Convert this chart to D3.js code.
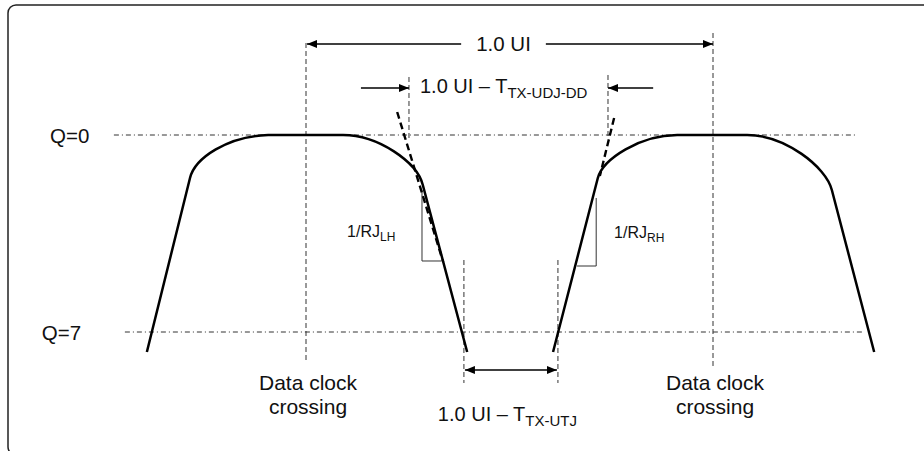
<!DOCTYPE html>
<html>
<head>
<meta charset="utf-8">
<script src="https://cdn.jsdelivr.net/npm/d3@7"></script>
<style>
  html, body { margin: 0; padding: 0; background: #fff; }
  svg { display: block; }
  text { font-family: "Liberation Sans", Arial, sans-serif; fill: #111; }
</style>
</head>
<body>
<svg id="chart" width="924" height="451"></svg>
<script>
// ---- Data (UI along x, Q level along y) ----
const qLevels = [0, 7];
const qLabels = ["Q=0", "Q=7"];
const qLabelStart = [-0.629, -0.649];
const qLineStart = [-0.472, -0.445];
const qLineEnd = [1.349, 1.373];

// pulse outlines: [M, L, C(c1,c2,end), L(flat), C(c1,c2,end), L]
const leftPulse = [[-0.391, 7.711], [-0.285, 1.528], [-0.273, 0.817], [-0.192, 0.036], [-0.093, 0],
                   [0.091, 0], [0.177, 0], [0.273, 0.959], [0.287, 1.777], [0.396, 7.711]];
const rightPulse = [[0.607, 7.711], [0.717, 1.528], [0.730, 0.853], [0.821, 0], [0.912, 0],
                    [1.084, 0], [1.177, 0], [1.278, 1.137], [1.292, 1.954], [1.396, 7.711]];

// extrapolated (dashed) edges
const tangents = [[[0.224, -0.817], [0.337, 4.513]], [[0.757, -0.604], [0.722, 1.457]]];
// slope triangles
const slopeTriangles = [[[0.285, 1.954], [0.285, 4.477], [0.332, 4.477]],
                        [[0.666, 4.655], [0.713, 4.655], [0.713, 2.239]]];
// vertical dashed markers: [u, qTop, qBottom]
const clockCrossings = [[0, -3.269, 8.066], [1, -3.624, 8.208]];
const udjMarkers = [[0.253, -2.061, 0.178], [0.742, -2.132, 0.071]];
const utjMarkers = [[0.388, 4.442, 8.812], [0.619, 4.442, 8.812]];

// arrows
const uiArrow = { from: 0, to: 1, q: -3.234, label: "1.0 UI" };
const udjArrows = [[0.135, 0.253, -1.670], [0.853, 0.742, -1.670]];
const utjArrow = [0.388, 0.619, 8.350];

// annotations: [main, subscript, u, q, anchor, size]
const annotations = [
  ["1.0 UI \u2013 T", "TX-UDJ-DD", 0.280, -1.492, "start", 20],
  ["1/RJ", "LH", 0.101, 3.624, "start", 16],
  ["1/RJ", "RH", 0.757, 3.660, "start", 16],
  ["1.0 UI \u2013 T", "TX-UTJ", 0.324, 10.163, "start", 20]
];
const clockLabels = [["Data clock", "crossing"], ["Data clock", "crossing"]];
const clockLabelQ = [9.061, 9.914];

// ---- Scales ----
const x = d3.scaleLinear().domain([0, 1]).range([306, 713]);
const y = d3.scaleLinear().domain([0, 7]).range([135, 332]);

const svg = d3.select("#chart");

// frame
svg.append("rect").attr("x", 8).attr("y", 5).attr("width", 940).attr("height", 450)
  .attr("rx", 8).attr("fill", "none").attr("stroke", "#222").attr("stroke-width", 1.5);

// markers
const defs = svg.append("defs");
defs.append("marker").attr("id", "ah").attr("viewBox", "0 0 10 8")
  .attr("refX", 10).attr("refY", 4).attr("markerWidth", 10).attr("markerHeight", 8)
  .attr("markerUnits", "userSpaceOnUse").attr("orient", "auto-start-reverse")
  .append("path").attr("d", "M0,0 L10,4 L0,8 Z").attr("fill", "#000");

// Q level lines
qLevels.forEach((q, i) => {
  svg.append("line").attr("x1", x(qLineStart[i])).attr("x2", x(qLineEnd[i]))
    .attr("y1", y(q)).attr("y2", y(q))
    .attr("stroke", "#333").attr("stroke-width", 1).attr("stroke-dasharray", "5,3,1,3");
  svg.append("text").attr("x", x(qLabelStart[i])).attr("y", y(q))
    .attr("dominant-baseline", "central").attr("font-size", 20.5).text(qLabels[i]);
});

// vertical dashed markers
[...clockCrossings, ...udjMarkers, ...utjMarkers].forEach(d => {
  svg.append("line").attr("x1", x(d[0])).attr("x2", x(d[0]))
    .attr("y1", y(d[1])).attr("y2", y(d[2]))
    .attr("stroke", "#333").attr("stroke-width", 1).attr("stroke-dasharray", "5,3");
});

// slope triangles
const line = d3.line().x(d => x(d[0])).y(d => y(d[1]));
slopeTriangles.forEach(t => {
  svg.append("path").attr("d", line(t)).attr("fill", "none")
    .attr("stroke", "#333").attr("stroke-width", 1);
});

// pulses
function pulsePath(p) {
  const P = p.map(d => [x(d[0]), y(d[1])]);
  const path = d3.path();
  path.moveTo(...P[0]);
  path.lineTo(...P[1]);
  path.bezierCurveTo(...P[2], ...P[3], ...P[4]);
  path.lineTo(...P[5]);
  path.bezierCurveTo(...P[6], ...P[7], ...P[8]);
  path.lineTo(...P[9]);
  return path.toString();
}
[leftPulse, rightPulse].forEach(p => {
  svg.append("path").attr("d", pulsePath(p)).attr("fill", "none")
    .attr("stroke", "#000").attr("stroke-width", 2.5).attr("stroke-linejoin", "round");
});

// tangent dashed edges
tangents.forEach(t => {
  svg.append("path").attr("d", line(t)).attr("fill", "none")
    .attr("stroke", "#000").attr("stroke-width", 2.4).attr("stroke-dasharray", "7,4");
});

// 1.0 UI arrow with label gap
const uiText = svg.append("text").attr("x", (x(uiArrow.from) + x(uiArrow.to)) / 2 - 6)
  .attr("y", y(uiArrow.q)).attr("dominant-baseline", "central")
  .attr("text-anchor", "middle").attr("font-size", 20.5).text(uiArrow.label);
const bb = uiText.node().getBBox();
const gapL = bb.x - 15, gapR = bb.x + bb.width + 15;
svg.append("line").attr("x1", gapL).attr("x2", x(uiArrow.from) + 1)
  .attr("y1", y(uiArrow.q)).attr("y2", y(uiArrow.q))
  .attr("stroke", "#000").attr("stroke-width", 1.3).attr("marker-end", "url(#ah)");
svg.append("line").attr("x1", gapR).attr("x2", x(uiArrow.to))
  .attr("y1", y(uiArrow.q)).attr("y2", y(uiArrow.q))
  .attr("stroke", "#000").attr("stroke-width", 1.3).attr("marker-end", "url(#ah)");

// small UDJ arrows
udjArrows.forEach(a => {
  svg.append("line").attr("x1", x(a[0])).attr("x2", x(a[1]))
    .attr("y1", y(a[2])).attr("y2", y(a[2]))
    .attr("stroke", "#000").attr("stroke-width", 1.3).attr("marker-end", "url(#ah)");
});
// UTJ double arrow
svg.append("line").attr("x1", x(utjArrow[0]) + 1).attr("x2", x(utjArrow[1]) - 1)
  .attr("y1", y(utjArrow[2])).attr("y2", y(utjArrow[2]))
  .attr("stroke", "#000").attr("stroke-width", 1.3)
  .attr("marker-start", "url(#ah)").attr("marker-end", "url(#ah)");

// annotations with subscripts
annotations.forEach(a => {
  const t = svg.append("text").attr("x", x(a[2])).attr("y", y(a[3]))
    .attr("text-anchor", a[4]).attr("font-size", a[5]);
  t.append("tspan").text(a[0]);
  t.append("tspan").attr("font-size", a[5] * 0.75).attr("dy", a[5] * 0.25).text(a[1]);
});

// clock crossing labels
clockCrossings.forEach((c, i) => {
  clockLabels[i].forEach((s, j) => {
    svg.append("text").attr("x", x(c[0]) + 2).attr("y", y(clockLabelQ[j]))
      .attr("text-anchor", "middle").attr("font-size", 21).text(s);
  });
});
</script>
</body>
</html>
